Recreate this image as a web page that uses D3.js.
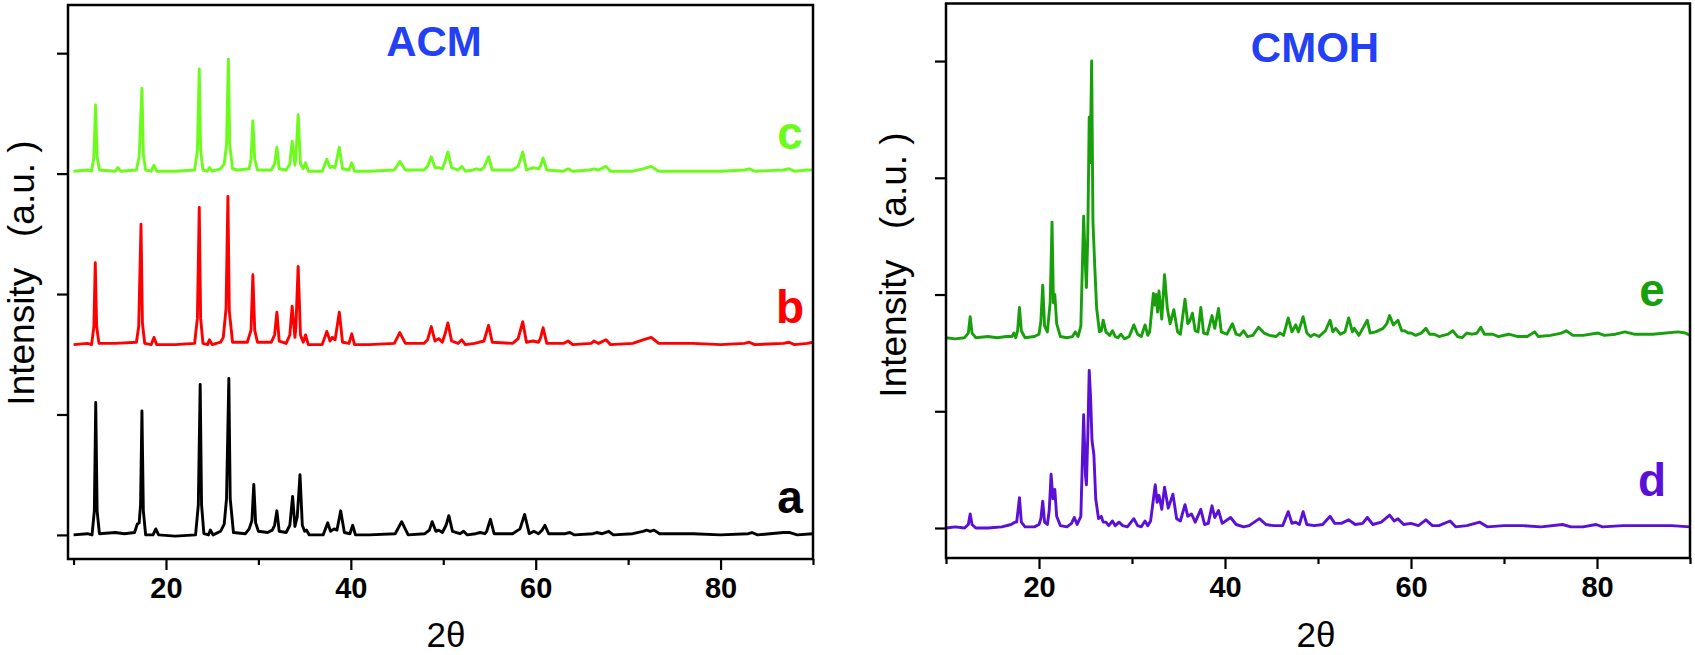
<!DOCTYPE html>
<html>
<head>
<meta charset="utf-8">
<script src="https://cdn.jsdelivr.net/npm/d3@7"></script>
<style>
  body { margin: 0; background: #fff; }
  svg { display: block; font-family: "Liberation Sans", Arial, sans-serif; }
</style>
</head>
<body>
<svg width="1695" height="655"></svg>
<script>
// points are [2theta, intensity (a.u.)]
const seriesA = [[10,0],[11.5,1],[12.0,0],[12.25,20],[12.4,110],[12.55,20],[12.8,1],[14.5,2],[15.5,1],
  [16.6,2],[16.9,9],[17.1,10],[17.25,25],[17.4,103],[17.55,20],[17.8,0],[18.6,0],[18.9,5],[19.2,0],
  [21,-1],[23.2,0],[23.5,25],[23.7,125],[23.85,25],[24.1,1],[24.6,0],[24.8,4],[25.1,0],
  [25.9,3],[26.3,9],[26.55,30],[26.8,130],[26.95,30],[27.3,2],[28.6,1],[29.0,5],[29.3,12],[29.5,42],[29.7,10],[30.0,3],
  [31.0,2],[31.5,4],[31.75,8],[32.0,20],[32.25,3],[33.0,2],[33.4,8],[33.7,32],[33.95,7],[34.2,15],[34.5,50],[34.75,8],[35.0,3],[35.2,4],[35.5,0],
  [37.0,0],[37.5,10],[37.8,3],[38.2,5],[38.5,4],[38.9,20],[39.3,2],[39.9,1],[40.2,8],[40.5,0],
  [42,0],[44.8,1],[45.5,11],[46.2,0],[48.0,1],[48.5,4],[48.8,11],[49.2,3],[49.5,4],[49.9,2],[50.3,8],[50.6,16],[51.0,3],
  [51.8,1],[52.2,3],[52.6,0],[53.5,1],[54.0,2],[54.5,1],[54.7,3],[55.1,13],[55.5,1],
  [57.5,1],[58.3,5],[58.8,17],[59.3,1],[59.8,3],[60.3,1],[60.7,4],[61.0,8],[61.4,1],
  [63.2,1],[63.7,2],[64.2,0],[66.2,1],[66.6,2],[67.2,1],[67.9,3],[68.4,0],
  [70.5,1],[71.6,3],[72.0,4],[72.4,3],[72.8,4],[73.4,1],[77,1],[80,0],[83.0,1],[83.4,2],[84,0],[86.8,2],[87.5,2],[88.3,0],[90,1]];

const seriesB = [[10,0],[11.5,1],[11.95,0],[12.2,15],[12.35,68],[12.5,15],[12.75,1],
  [14.5,1],[16.8,2],[17.05,15],[17.3,100],[17.45,18],[17.7,1],[18.4,0],[18.7,6],[19.0,0],
  [21,0],[23.1,1],[23.4,22],[23.6,114],[23.75,22],[24.0,1],[24.5,0],[24.7,4],[25.0,0],
  [25.9,2],[26.2,6],[26.5,30],[26.7,123],[26.85,28],[27.2,2],[28.8,2],[29.2,12],[29.4,58],[29.6,12],[29.9,2],
  [31.4,2],[31.75,8],[32.0,27],[32.25,3],[33.0,1],[33.4,8],[33.65,32],[33.95,6],[34.05,14],[34.3,65],[34.55,8],[34.85,2],[35.1,8],[35.4,0],
  [36.9,0],[37.4,11],[37.75,3],[38.0,6],[38.3,4],[38.75,27],[39.1,2],[39.8,1],[40.1,9],[40.4,0],
  [42,0],[44.7,1],[45.3,10],[45.9,1],[47.9,1],[48.3,4],[48.7,15],[49.1,3],[49.5,5],[49.9,2],[50.2,9],[50.5,18],[50.9,3],
  [51.6,1],[52.0,4],[52.4,0],[53.4,1],[54.4,3],[54.9,16],[55.3,2],
  [57.5,1],[58.1,5],[58.6,19],[59.0,2],[59.7,3],[60.3,2],[60.5,5],[60.8,14],[61.2,1],
  [63.0,1],[63.5,3],[64.0,0],[66.0,1],[66.3,3],[66.8,1],[67.6,4],[68.1,0],
  [70.5,1],[71.6,4],[72.5,6],[73.3,1],[77,1],[80,0],[82.6,1],[83.1,2],[83.7,0],[86.8,1],[87.4,2],[88.0,0],[89.4,1],[90,2]];

const seriesC = [[10,0],[11.5,1],[11.95,0],[12.2,12],[12.38,55],[12.55,12],[12.8,1],[14.5,0],[14.8,3],[15.1,0],
  [16.8,1],[17.1,12],[17.4,69],[17.55,14],[17.8,1],[18.4,0],[18.7,5],[19.0,0],
  [21,0],[23.1,1],[23.4,17],[23.6,85],[23.75,17],[24.0,1],[24.5,0],[24.7,3],[25.0,0],
  [25.9,2],[26.3,6],[26.55,22],[26.75,93],[26.9,22],[27.2,2],[27.8,1],[29.0,2],[29.2,10],[29.4,42],[29.6,10],[29.9,1],
  [31.4,1],[31.75,6],[32.0,20],[32.25,2],[33.0,1],[33.4,6],[33.65,25],[33.95,5],[34.05,11],[34.3,47],[34.55,6],[34.85,2],[35.1,7],[35.4,0],
  [36.9,0],[37.4,10],[37.75,3],[38.0,4],[38.3,3],[38.75,20],[39.1,2],[39.8,1],[40.1,7],[40.4,0],
  [42,0],[44.7,1],[45.3,8],[45.9,1],[47.9,1],[48.3,4],[48.7,12],[49.1,3],[49.5,3],[49.9,2],[50.2,8],[50.5,16],[50.9,3],
  [51.6,1],[52.0,4],[52.4,0],[53.2,1],[53.6,2],[54.0,1],[54.4,3],[54.9,12],[55.3,1],
  [57.5,1],[58.1,4],[58.6,16],[59.0,1],[59.8,3],[60.3,2],[60.5,4],[60.8,11],[61.2,1],
  [63.0,0],[63.5,2],[64.0,0],[65.8,1],[66.3,2],[66.8,1],[67.6,4],[68.1,0],
  [70.5,0],[71.6,2],[72.5,4],[73.3,0],[77,0],[80,0],[82.6,1],[83.1,2],[83.7,0],[86.8,1],[87.4,2],[88.0,0],[89.4,1],[90,1]];

const seriesD = [[10,0],[11,1],[12.0,0],[12.4,3],[12.6,12],[12.8,3],[13.2,0],
  [14.5,0],[16,1],[17.0,3],[17.4,5],[17.6,5],[17.9,26],[18.1,5],[18.5,1],
  [19.5,1],[20.0,3],[20.2,8],[20.4,23],[20.6,5],[20.9,3],[21.1,15],[21.3,46],[21.5,25],[21.7,33],[21.9,10],[22.3,2],
  [23.0,1],[23.5,4],[23.8,9],[24.1,3],[24.5,10],[24.8,97],[25.0,45],[25.1,37],[25.25,80],[25.4,135],[25.55,111],[25.7,75],[25.9,63],[26.1,25],[26.4,8],
  [26.7,10],[26.9,5],[27.2,5],[27.5,2],[27.9,6],[28.2,2],[28.6,5],[29.0,2],[29.5,1],[30.2,8],[30.6,2],[31.0,1],[31.4,6],[31.7,2],
  [32.0,6],[32.5,37],[32.7,22],[32.9,28],[33.2,16],[33.5,35],[33.9,17],[34.4,29],[34.8,8],[35.2,6],[35.7,20],[36.0,10],[36.4,12],[36.8,5],
  [37.4,16],[37.8,3],[38.2,4],[38.6,19],[38.9,9],[39.3,15],[39.7,4],[40.6,9],[41.2,3],[42.0,1],[42.6,2],[43.7,8],[44.4,3],[45.2,2],
  [46.2,2],[46.8,14],[47.2,4],[47.6,5],[48.0,3],[48.4,14],[48.8,3],[49.6,2],[50.5,3],[51.3,10],[51.8,4],[52.5,4],[53.3,7],[54.0,3],
  [54.8,4],[55.3,9],[55.9,3],[56.8,5],[57.7,11],[58.2,6],[58.6,8],[59.2,3],[60.0,4],[60.8,2],[61.6,7],[62.3,2],[63.0,2],[64.2,6],[64.8,1],
  [66.0,2],[67.4,5],[68.2,1],[70,2],[72,2],[74,1],[76.3,3],[77.2,1],[78.5,1],[79.9,3],[80.6,1],[82.8,2],[84,2],[86,2],[88,2],[90,1]];

const seriesE = [[10,0],[11,-1],[12.0,0],[12.4,4],[12.6,18],[12.8,4],[13.2,0],
  [14.5,1],[15.5,0],[16.5,1],[17.1,1],[17.3,4],[17.5,0],[17.7,6],[17.9,26],[18.1,6],[18.5,0],
  [19.5,1],[20.0,3],[20.2,14],[20.4,45],[20.6,10],[20.9,5],[21.2,30],[21.4,99],[21.55,30],[21.7,37],[21.9,12],[22.3,1],
  [23.0,0],[23.6,1],[23.9,5],[24.2,1],[24.5,10],[24.8,104],[25.0,60],[25.1,43],[25.25,90],[25.4,189],[25.5,150],[25.66,237],[25.8,100],[26.0,60],[26.2,25],[26.5,5],
  [26.7,6],[26.9,15],[27.2,5],[27.6,2],[27.9,6],[28.2,1],[28.5,0],[28.8,3],[29.2,-1],[29.7,1],[30.2,11],[30.6,3],[31.0,1],[31.4,11],[31.7,2],
  [31.9,5],[32.3,38],[32.45,28],[32.6,37],[32.75,22],[32.9,40],[33.2,16],[33.5,54],[33.8,25],[34.1,12],[34.5,24],[34.9,5],[35.2,3],[35.7,33],
  [36.0,12],[36.2,14],[36.5,21],[36.8,6],[37.1,5],[37.4,26],[37.7,4],[38.1,3],[38.6,19],[38.9,8],[39.3,25],[39.6,5],[40.2,3],[40.8,12],
  [41.2,3],[41.6,2],[42.0,6],[42.4,1],[43.0,2],[43.6,9],[44.2,4],[44.8,2],[45.5,1],[45.9,4],[46.3,2],[46.8,17],[47.2,5],[47.6,11],[47.9,5],
  [48.4,18],[48.8,4],[49.2,1],[49.6,3],[50.1,1],[50.8,6],[51.3,15],[51.6,5],[51.9,8],[52.4,3],[52.9,5],[53.3,17],[53.7,5],[53.9,8],[54.4,2],
  [55.3,15],[55.6,4],[56.2,5],[57.0,8],[57.4,12],[57.7,19],[58.1,11],[58.6,15],[59.0,6],[59.3,6],[59.7,4],[60.0,4],[60.5,2],[61.1,4],[61.6,8],
  [62.0,3],[62.5,3],[63.0,1],[64.0,3],[64.5,6],[65.0,1],[65.5,0],[66.0,4],[66.6,3],[67.1,4],[67.5,9],[67.9,3],[68.8,3],[69.4,1],[70.5,3],
  [71.5,1],[72.5,1],[73.3,5],[73.7,1],[75.0,2],[76.2,4],[76.7,6],[77.4,2],[78.5,2],[80.1,4],[80.8,2],[82.0,3],[83.0,5],[84,3],[86,3],[88.7,5],[89.5,4],[90,2]];

const leftNames = ["a", "b", "c"];
const leftOffsets = [0, 158, 302];
const leftColors = ["#000000", "#ff0000", "#6cfc1c"];
const rightNames = ["d", "e"];
const rightOffsets = [0, 163];
const rightColors = ["#5b10d8", "#18a00c"];
const yTicks = [0, 100, 200, 300, 400];
const xTicks = [10, 20, 30, 40, 50, 60, 70, 80, 90];
const xLabelTicks = [20, 40, 60, 80];

const svg = d3.select("svg");
const titleBlue = "#2440f4";

function panel(opt) {
  const x = d3.scaleLinear().domain(opt.xDomain).range(opt.xRange);
  const y = d3.scaleLinear().domain(opt.yDomain).range(opt.yRange);
  const g = svg.append("g");

  const line = d3.line()
    .x(d => x(d[0]))
    .y(d => y(d[1]));

  opt.series.forEach((s, i) => {
    const pts = s.map(p => [p[0], p[1] + opt.offsets[i]]);
    g.append("path")
      .datum(pts)
      .attr("fill", "none")
      .attr("stroke", opt.colors[i])
      .attr("stroke-width", 2.9)
      .attr("stroke-linejoin", "round")
      .attr("d", line);
    g.append("text")
      .attr("x", opt.labelX)
      .attr("y", y(opt.offsets[i]) + opt.labelDy)
      .attr("text-anchor", "middle")
      .attr("font-size", 46)
      .attr("font-weight", "bold")
      .attr("fill", opt.colors[i])
      .text(opt.names[i]);
  });

  // frame
  g.append("rect")
    .attr("x", opt.xRange[0])
    .attr("y", opt.yRange[1])
    .attr("width", opt.xRange[1] - opt.xRange[0])
    .attr("height", opt.yRange[0] - opt.yRange[1])
    .attr("fill", "none")
    .attr("stroke", "#000")
    .attr("stroke-width", 2.5);

  const yAxis = g.append("g")
    .attr("transform", `translate(${opt.xRange[0]},0)`)
    .call(d3.axisLeft(y).tickValues(yTicks).tickSize(11).tickFormat(""));
  yAxis.select(".domain").remove();
  yAxis.selectAll(".tick line").attr("stroke-width", 2.2);

  const xAxis = g.append("g")
    .attr("transform", `translate(0,${opt.yRange[0]})`)
    .call(d3.axisBottom(x).tickValues(xTicks).tickFormat(d => xLabelTicks.includes(d) ? d : ""));
  xAxis.select(".domain").remove();
  xAxis.selectAll(".tick line")
    .attr("stroke-width", 2.2)
    .attr("y2", d => xLabelTicks.includes(d) ? 11 : 6);
  xAxis.selectAll(".tick text")
    .attr("y", 39)
    .attr("dy", 0)
    .attr("font-size", 29)
    .attr("font-weight", "bold")
    .attr("font-family", "Liberation Sans, Arial, sans-serif")
    .attr("fill", "#000");

  g.append("text")
    .attr("x", opt.titleX)
    .attr("y", opt.titleY)
    .attr("text-anchor", "middle")
    .attr("font-size", 42)
    .attr("font-weight", "bold")
    .attr("fill", titleBlue)
    .text(opt.title);

  g.append("text")
    .attr("x", opt.xTitleX)
    .attr("y", 647)
    .attr("text-anchor", "middle")
    .attr("font-size", 35)
    .text("2θ");

  g.append("text")
    .attr("transform", `translate(${opt.yTitleX},${opt.yTitleY}) rotate(-90)`)
    .attr("text-anchor", "middle")
    .attr("dominant-baseline", "central")
    .attr("font-size", 37)
    .style("white-space", "pre")
    .text("Intensity   (a.u. )");
}

panel({
  series: [seriesA, seriesB, seriesC],
  names: leftNames, offsets: leftOffsets, colors: leftColors,
  xDomain: [9.4, 90], xRange: [68, 813],
  yDomain: [-20, 440], yRange: [559, 5],
  labelX: 790, labelDy: -22,
  title: "ACM", titleX: 434, titleY: 56,
  xTitleX: 446, yTitleX: 21, yTitleY: 273
});

panel({
  series: [seriesD, seriesE],
  names: rightNames, offsets: rightOffsets, colors: rightColors,
  xDomain: [10, 90], xRange: [946, 1690],
  yDomain: [-25.7, 449.3], yRange: [558, 3.5],
  labelX: 1652, labelDy: -32,
  title: "CMOH", titleX: 1315, titleY: 62,
  xTitleX: 1316, yTitleX: 893, yTitleY: 265
});
</script>
</body>
</html>
